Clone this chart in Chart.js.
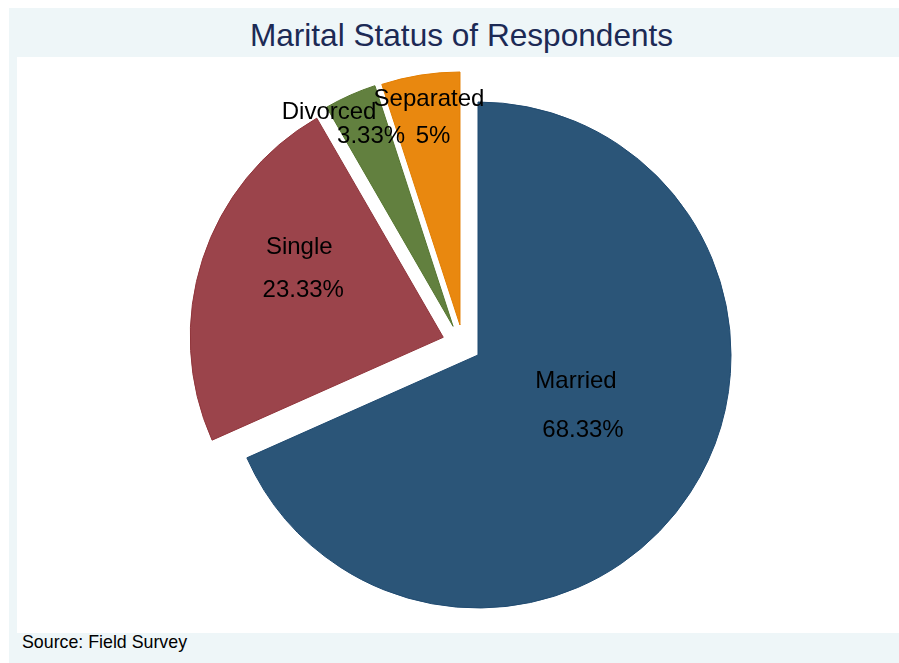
<!DOCTYPE html>
<html>
<head>
<meta charset="utf-8">
<script src="https://cdn.jsdelivr.net/npm/chart.js@4/dist/chart.umd.min.js"></script>
<style>
    html, body { margin: 0; padding: 0; background: #ffffff; }
    body { width: 899px; height: 663px; position: relative; overflow: hidden; font-family: "Liberation Sans", Arial, sans-serif; }
    #graphRegion { position: absolute; left: 9px; top: 8px; width: 890px; height: 655px; background: #eef6f8; }
    #plotRegion { position: absolute; left: 17px; top: 57px; width: 882px; height: 576px; background: #ffffff; }
    #title { position: absolute; left: 0; top: 20px; width: 923px; text-align: center; font-size: 31.6px; line-height: 31px; color: #1c2a55; white-space: nowrap; }
    #note { position: absolute; left: 22px; top: 634px; font-size: 17.8px; line-height: 17px; color: #000000; white-space: nowrap; }
    #pieCanvas { position: absolute; left: 0; top: 0; }
</style>
</head>
<body>
<div id="graphRegion"></div>
<div id="plotRegion"></div>
<div id="title">Marital Status of Respondents</div>
<div id="note">Source: Field Survey</div>
<canvas id="pieCanvas" width="899" height="663"></canvas>
<script>
// data
const categories = ['Married', 'Single', 'Divorced', 'Separated'];
const percentages = [68.33, 23.33, 3.33, 5];

// styles
const fillColors = ['#2b5578', '#9b444b', '#62803f', '#e9880f'];
const edgeColors = ['#1f4a70', '#90353b', '#55752f', '#e37e00'];
// explode: distance (px) and direction (deg, clockwise from 12 o'clock)
const explodeDist = [0, 39, 38, 35];
const explodeDir = [0, 297, 319, 329];
// label offsets from slice apex: [nameDx, nameDy, pctDx, pctDy] (baseline)
const labelOffsets = [
    [98, 33, 105, 82],
    [-144, -83, -140, -40],
    [-124, -207, -82, -183],
    [-31, -219, -27, -182]
];

const explodePlugin = {
    id: 'explodeSlices',
    afterDatasetUpdate(chart, args) {
        args.meta.data.forEach((arc, i) => {
            const a = explodeDir[i] * Math.PI / 180;
            arc.x += explodeDist[i] * Math.sin(a);
            arc.y -= explodeDist[i] * Math.cos(a);
        });
    }
};

const sliceLabelPlugin = {
    id: 'sliceLabels',
    afterDatasetsDraw(chart) {
        const ctx = chart.ctx;
        const meta = chart.getDatasetMeta(0);
        ctx.save();
        ctx.font = '24px "Liberation Sans", Arial, sans-serif';
        ctx.fillStyle = '#000000';
        ctx.textAlign = 'center';
        ctx.textBaseline = 'alphabetic';
        meta.data.forEach((arc, i) => {
            const o = labelOffsets[i];
            ctx.fillText(categories[i], arc.x + o[0], arc.y + o[1]);
            ctx.fillText(percentages[i] + '%', arc.x + o[2], arc.y + o[3]);
        });
        ctx.restore();
    }
};

const ctx = document.getElementById('pieCanvas').getContext('2d');
const pieChart = new Chart(ctx, {
    type: 'pie',
    data: {
        labels: categories,
        datasets: [
            {
                data: percentages,
                backgroundColor: fillColors,
                borderColor: edgeColors,
                borderWidth: 1,
                radius: 253
            }
        ]
    },
    options: {
        responsive: false,
        animation: false,
        events: [],
        layout: {
            padding: { left: 57, top: 47, right: 0, bottom: 0 }
        },
        plugins: {
            legend: { display: false },
            tooltip: { enabled: false }
        }
    },
    plugins: [explodePlugin, sliceLabelPlugin]
});
</script>
</body>
</html>
